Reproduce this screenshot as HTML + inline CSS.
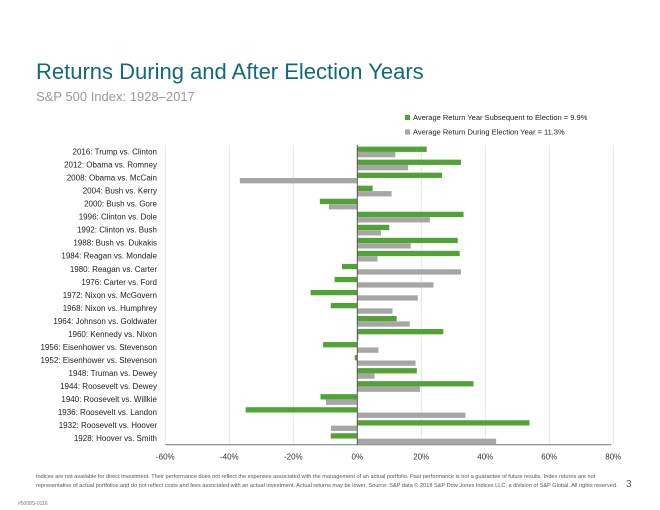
<!DOCTYPE html>
<html><head><meta charset="utf-8"><style>
body{margin:0;background:#fff;}
#wrap{position:relative;width:660px;height:510px;overflow:hidden;font-family:"Liberation Sans",sans-serif;}
.t{position:absolute;white-space:nowrap;}
</style></head><body>
<div id="wrap">
<div class="t" style="left:36px;top:59px;font-size:22px;color:#11697c;">Returns During and After Election Years</div>
<div class="t" style="left:36px;top:89px;font-size:13px;color:#9a9a9a;">S&amp;P 500 Index: 1928–2017</div>
<svg id="chart" width="660" height="510" style="position:absolute;left:0;top:0"></svg>
<div class="t" style="left:36px;top:473px;font-size:5.6px;color:#555;line-height:9px;">Indices are not available for direct investment. Their performance does not reflect the expenses associated with the management of an actual portfolio. Past performance is not a guarantee of future results. Index returns are not<br>representative of actual portfolios and do not reflect costs and fees associated with an actual investment. Actual returns may be lower. Source: S&amp;P data © 2018 S&amp;P Dow Jones Indices LLC, a division of S&amp;P Global. All rights reserved.</div>
<div class="t" style="left:626px;top:479px;font-size:10px;color:#555;">3</div>
<div class="t" style="left:18px;top:501px;font-size:5px;color:#777;">#5008S-0116</div>
</div>
<script>
const categories=["2016: Trump vs. Clinton","2012: Obama vs. Romney","2008: Obama vs. McCain","2004: Bush vs. Kerry","2000: Bush vs. Gore","1996: Clinton vs. Dole","1992: Clinton vs. Bush","1988: Bush vs. Dukakis","1984: Reagan vs. Mondale","1980: Reagan vs. Carter","1976: Carter vs. Ford","1972: Nixon vs. McGovern","1968: Nixon vs. Humphrey","1964: Johnson vs. Goldwater","1960: Kennedy vs. Nixon","1956: Eisenhower vs. Stevenson","1952: Eisenhower vs. Stevenson","1948: Truman vs. Dewey","1944: Roosevelt vs. Dewey","1940: Roosevelt vs. Willkie","1936: Roosevelt vs. Landon","1932: Roosevelt vs. Hoover","1928: Hoover vs. Smith"];
const subsequentYear=[21.7,32.4,26.5,4.8,-11.7,33.2,10.0,31.4,32.0,-4.8,-7.1,-14.6,-8.3,12.3,26.9,-10.7,-0.8,18.6,36.3,-11.5,-34.9,53.8,-8.3];
const electionYear=[11.9,15.9,-36.7,10.7,-8.9,22.7,7.4,16.7,6.3,32.4,23.8,18.9,11.0,16.4,0.4,6.6,18.2,5.4,19.6,-9.8,33.8,-8.2,43.4];
const ticks=[-60,-40,-20,0,20,40,60,80];
const legendLabels=["Average Return Year Subsequent to Election = 9.9%","Average Return During Election Year = 11.3%"];
const NS="http://www.w3.org/2000/svg";
const svg=document.getElementById('chart');
const x0=357.3,pxPer=3.2,plotTop=145,pitch=13.03;
const X=v=>x0+v*pxPer;
function mk(t,a){const e=document.createElementNS(NS,t);for(const k in a)e.setAttribute(k,a[k]);svg.appendChild(e);return e;}
const plotBottom=plotTop+pitch*categories.length;
ticks.forEach(t=>{
  if(t!==0){const g=mk('line',{x1:X(t),x2:X(t),y1:plotTop,y2:plotBottom,stroke:'#e3e3e3','stroke-width':1});
  
  }
  const l=mk('text',{x:X(t),y:plotBottom+15,'text-anchor':'middle','font-size':'8px',fill:'#333','font-family':'Liberation Sans, sans-serif'});
  l.textContent=t+'%';
  
  
});
categories.forEach((c,i)=>{
  const ry=plotTop+i*pitch;
  const g=mk('rect',{x:Math.min(X(0),X(subsequentYear[i])),y:ry+1.6,width:Math.abs(subsequentYear[i])*pxPer,height:5.3,fill:'#52a336'});
  
  
  const b=mk('rect',{x:Math.min(X(0),X(electionYear[i])),y:ry+7,width:Math.abs(electionYear[i])*pxPer,height:5.3,fill:'#a6a6a6'});
  
  
  const t=mk('text',{x:157,y:ry+9.5,'text-anchor':'end','font-size':'8px',fill:'#222','font-family':'Liberation Sans, sans-serif'});
  t.textContent=c;
  
  
});
const za=mk('line',{x1:X(0),x2:X(0),y1:plotTop,y2:plotBottom,stroke:'#555','stroke-width':1});


const xa=mk('line',{x1:X(-60),x2:X(80)-2,y1:plotBottom,y2:plotBottom,stroke:'#777','stroke-width':1});


const lc=['#52a336','#a6a6a6'];
legendLabels.forEach((s,i)=>{
  const y=118+i*14.5;
  const r=mk('rect',{x:405,y:y-3,width:5,height:5,fill:lc[i]});
  
  
  const t=mk('text',{x:413,y:y+2,'font-size':'7.5px',fill:'#222','font-family':'Liberation Sans, sans-serif'});
  t.textContent=s;
  
  
});
</script>
</body></html>
